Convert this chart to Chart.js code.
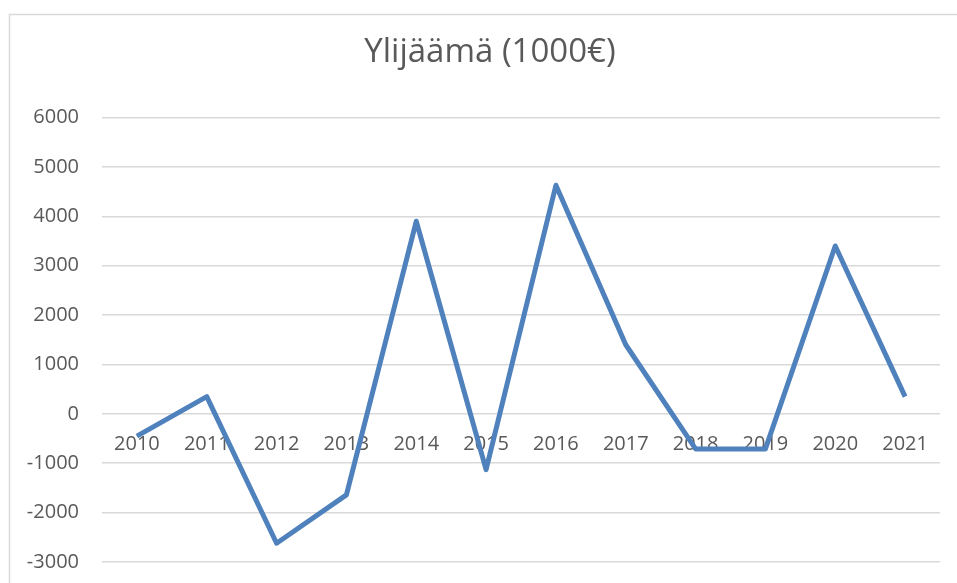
<!DOCTYPE html>
<html>
<head>
<meta charset="utf-8">
<script src="https://cdn.jsdelivr.net/npm/chart.js@4/dist/chart.umd.min.js"></script>
<style>
    html, body { margin: 0; padding: 0; background: #fff; }
    #wrap { width: 957px; height: 583px; position: relative; }
</style>
</head>
<body>
<div id="wrap"><canvas id="surplusChart"></canvas></div>
<script>
// Ylijäämä per year (1000€)
const years = ['2010', '2011', '2012', '2013', '2014', '2015', '2016', '2017', '2018', '2019', '2020', '2021'];
const surplus = [-450, 350, -2620, -1640, 3900, -1130, 4630, 1400, -710, -710, 3400, 350];
const yTicks = [-3000, -2000, -1000, 0, 1000, 2000, 3000, 4000, 5000, 6000];
const chartTitle = 'Ylijäämä (1000€)';

const textColor = '#595959';
const gridColor = '#d9d9d9';

// Light frame round the chart, like the spreadsheet chart box
const framePlugin = {
    id: 'frame',
    afterLayout(chart) {
        // the original chart box is cropped on the right, so its title sits a bit right of centre
        if (chart.titleBlock) {
            chart.titleBlock.left += 15;
            chart.titleBlock.right += 15;
        }
    },
    beforeDraw(chart) {
        const ctx = chart.ctx;
        ctx.save();
        ctx.strokeStyle = gridColor;
        ctx.lineWidth = 1.5;
        ctx.beginPath();
        ctx.moveTo(9.5, chart.height);
        ctx.lineTo(9.5, 14.5);
        ctx.lineTo(chart.width, 14.5);
        ctx.stroke();
        ctx.restore();
    }
};

new Chart(document.getElementById('surplusChart'), {
    type: 'line',
    data: {
        labels: years,
        datasets: [{
            label: chartTitle,
            data: surplus,
            borderColor: '#4f81bd',
            backgroundColor: '#4f81bd',
            borderWidth: 5,
            borderJoinStyle: 'round',
            pointRadius: 0,
            tension: 0,
            fill: false
        }]
    },
    options: {
        responsive: true,
        maintainAspectRatio: false,
        animation: false,
        layout: {
            padding: { left: 10, right: 17, top: 0, bottom: 21 }
        },
        plugins: {
            legend: { display: false },
            tooltip: { enabled: false },
            title: {
                display: true,
                text: chartTitle,
                color: textColor,
                font: { family: 'Open Sans', size: 33, weight: 'normal' },
                padding: { top: 33, bottom: 45 }
            }
        },
        scales: {
            x: {
                position: { y: 0 },
                offset: true,
                afterFit: (scale) => { scale.height = 0; },
                grid: { display: false, drawTicks: false },
                border: { display: false },
                ticks: {
                    color: textColor,
                    font: { family: 'Open Sans', size: 20 },
                    padding: 18,
                    maxRotation: 0,
                    autoSkip: false
                }
            },
            y: {
                min: yTicks[0],
                max: yTicks[yTicks.length - 1],
                afterBuildTicks: (scale) => {
                    scale.ticks = yTicks.map(v => ({ value: v }));
                },
                afterFit: (scale) => {
                    scale.width = 92;
                    scale.paddingTop = 12;
                    scale.paddingBottom = 12;
                },
                grid: { color: gridColor, lineWidth: 1.5, drawTicks: false },
                border: { display: false },
                ticks: {
                    color: textColor,
                    font: { family: 'Open Sans', size: 20 },
                    padding: 23,
                    callback: (value) => String(value)
                }
            }
        }
    },
    plugins: [framePlugin]
});
</script>
</body>
</html>
